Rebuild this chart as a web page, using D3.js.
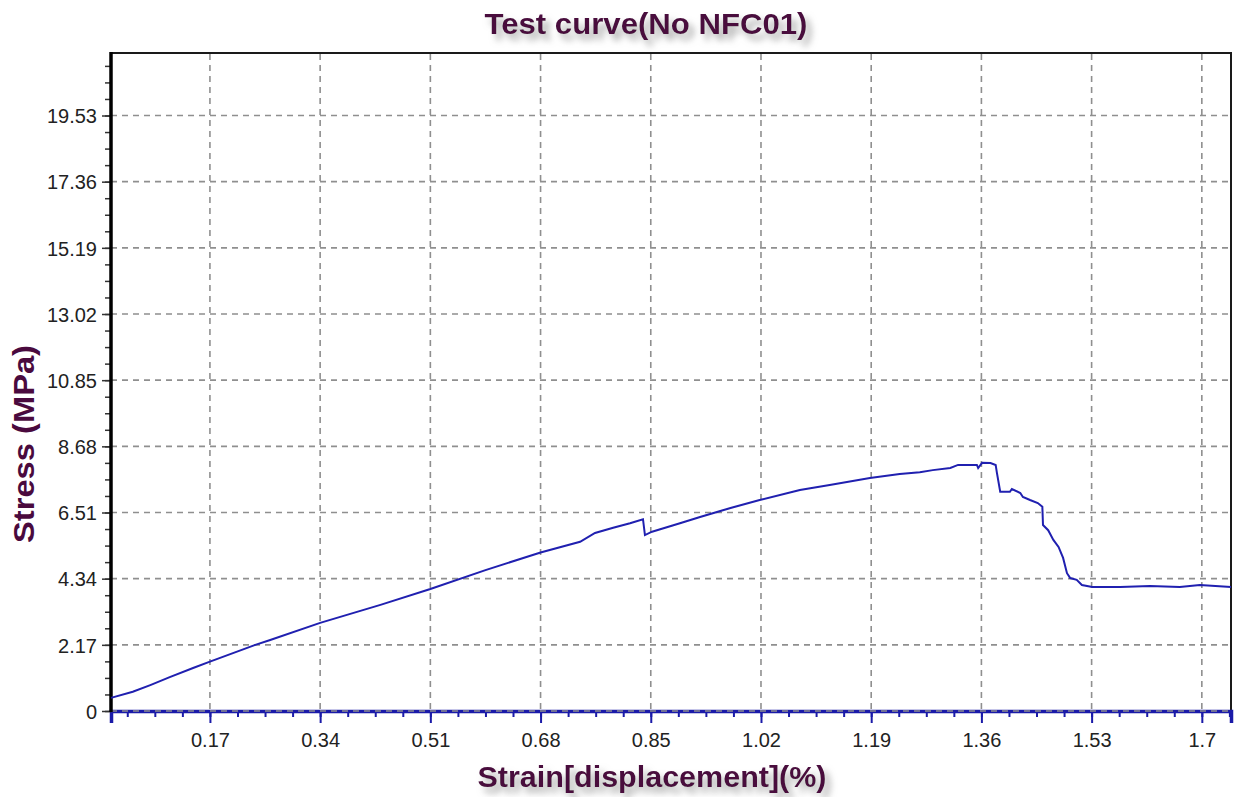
<!DOCTYPE html>
<html>
<head>
<meta charset="utf-8">
<script src="https://cdn.jsdelivr.net/npm/d3@7"></script>
<style>
  html, body { margin: 0; padding: 0; background: #ffffff; }
  svg { display: block; }
  text { font-family: "Liberation Sans", Arial, sans-serif; }
</style>
</head>
<body>
<svg id="chart" width="1236" height="797"></svg>
<script>
// ---- data ----
const strain = [0.0174, 0.051, 0.078, 0.108, 0.144, 0.170, 0.240, 0.263, 0.340, 0.433, 0.510, 0.595, 0.680, 0.741, 0.764, 0.792, 0.818, 0.838, 0.841, 0.852, 0.895, 0.926, 0.973, 1.018, 1.080, 1.126, 1.188, 1.234, 1.265, 1.285, 1.312, 1.324, 1.353, 1.355, 1.361, 1.374, 1.382, 1.384, 1.389, 1.404, 1.407, 1.420, 1.424, 1.435, 1.447, 1.454, 1.455, 1.463, 1.471, 1.479, 1.486, 1.492, 1.497, 1.507, 1.515, 1.531, 1.574, 1.620, 1.666, 1.697, 1.745];
const stress = [0.43, 0.63, 0.85, 1.11, 1.41, 1.62, 2.17, 2.33, 2.89, 3.48, 4.00, 4.62, 5.20, 5.55, 5.84, 6.01, 6.16, 6.29, 5.77, 5.88, 6.16, 6.36, 6.66, 6.92, 7.25, 7.41, 7.64, 7.77, 7.83, 7.90, 7.97, 8.07, 8.07, 7.97, 8.14, 8.13, 8.07, 7.80, 7.19, 7.19, 7.28, 7.15, 7.02, 6.92, 6.82, 6.70, 6.10, 5.93, 5.61, 5.38, 5.02, 4.52, 4.36, 4.30, 4.13, 4.07, 4.07, 4.10, 4.07, 4.13, 4.07];

const xTickValues = [0.17, 0.34, 0.51, 0.68, 0.85, 1.02, 1.19, 1.36, 1.53, 1.7];
const xTickLabels = ["0.17", "0.34", "0.51", "0.68", "0.85", "1.02", "1.19", "1.36", "1.53", "1.7"];
const yTickValues = [0, 2.17, 4.34, 6.51, 8.68, 10.85, 13.02, 15.19, 17.36, 19.53];
const yTickLabels = ["0", "2.17", "4.34", "6.51", "8.68", "10.85", "13.02", "15.19", "17.36", "19.53"];
const xDomain = [0.0174, 1.745];
const yDomain = [0, 21.58];

const titleText = "Test curve(No NFC01)";
const xTitleText = "Strain[displacement](%)";
const yTitleText = "Stress (MPa)";

// ---- layout ----
const L = 111, R = 1231, T = 53, B = 711;
const svg = d3.select("#chart");

const defs = svg.append("defs");
const f = defs.append("filter").attr("id", "shadow")
  .attr("x", "-10%").attr("y", "-40%").attr("width", "130%").attr("height", "200%");
f.append("feDropShadow").attr("dx", 5).attr("dy", 6).attr("stdDeviation", 3.5)
  .attr("flood-color", "#8a8a8a").attr("flood-opacity", 0.75);

const x = d3.scaleLinear().domain(xDomain).range([L, R]);
const y = d3.scaleLinear().domain(yDomain).range([B, T]);

// minor tick values
const xMinor = d3.range(0, 45).map(i => +(i * 0.0425).toFixed(4)).filter(v => v >= xDomain[0] && v <= xDomain[1]);
const yMinor = d3.range(0, 45).map(i => +(i * 0.5425).toFixed(4)).filter(v => v >= yDomain[0] && v <= yDomain[1]);

// frame
svg.append("rect").attr("x", L).attr("y", T).attr("width", R - L).attr("height", B - T)
  .attr("fill", "#fff").attr("stroke", "#1a1a1a").attr("stroke-width", 2);

// gridlines
const grid = svg.append("g");
grid.selectAll("line.v").data(xTickValues).join("line")
  .attr("x1", d => x(d)).attr("x2", d => x(d)).attr("y1", T + 1).attr("y2", B)
  .attr("stroke", "#8f8f8f").attr("stroke-width", 1.6).attr("stroke-dasharray", "6,5");
grid.selectAll("line.h").data(yTickValues.filter(d => d > 0)).join("line")
  .attr("x1", L).attr("x2", R - 1).attr("y1", d => y(d)).attr("y2", d => y(d))
  .attr("stroke", "#8f8f8f").attr("stroke-width", 1.6).attr("stroke-dasharray", "6,5");

// x axis (blue)
const xAxisG = svg.append("g").attr("transform", `translate(0,${B})`);
xAxisG.call(d3.axisBottom(x).tickValues(xMinor).tickSize(6).tickFormat(""))
  .call(g => g.select(".domain").remove())
  .call(g => g.selectAll("line").attr("stroke", "#1a1aa8").attr("stroke-width", 2));
const xAxisMajor = svg.append("g").attr("transform", `translate(0,${B})`);
xAxisMajor.call(d3.axisBottom(x).tickValues(xTickValues).tickSize(12).tickPadding(10)
    .tickFormat((d, i) => xTickLabels[i]))
  .call(g => g.select(".domain").attr("stroke", "#1a1aa8").attr("stroke-width", 3.5))
  .call(g => g.selectAll("line").attr("stroke", "#1a1aa8").attr("stroke-width", 2))
  .call(g => g.selectAll("text").attr("font-size", 20).attr("fill", "#222")
    .attr("font-family", "'Liberation Sans', Arial, sans-serif").attr("dy", "0.72em"));
// dashed grey gridline over the zero axis
svg.append("line").attr("x1", L).attr("x2", R).attr("y1", y(0)).attr("y2", y(0))
  .attr("stroke", "#8f8f8f").attr("stroke-width", 1.4).attr("stroke-dasharray", "6,5");

// y axis (black)
const yAxisMinor = svg.append("g").attr("transform", `translate(${L},0)`);
yAxisMinor.call(d3.axisLeft(y).tickValues(yMinor).tickSize(6).tickFormat(""))
  .call(g => g.select(".domain").remove())
  .call(g => g.selectAll("line").attr("stroke", "#333").attr("stroke-width", 1.5));
const yAxisMajor = svg.append("g").attr("transform", `translate(${L},0)`);
yAxisMajor.call(d3.axisLeft(y).tickValues(yTickValues).tickSize(9).tickPadding(5)
    .tickFormat((d, i) => yTickLabels[i]))
  .call(g => g.select(".domain").remove())
  .call(g => g.selectAll("line").attr("stroke", "#333").attr("stroke-width", 1.5))
  .call(g => g.selectAll("text").attr("font-size", 20).attr("fill", "#222")
    .attr("font-family", "'Liberation Sans', Arial, sans-serif").attr("dy", "0.36em"));
svg.append("line").attr("x1", L).attr("x2", L).attr("y1", T - 1).attr("y2", B + 1)
  .attr("stroke", "#000").attr("stroke-width", 3.5);

// curve
const data = strain.map((s, i) => ({ s, v: stress[i] }));
svg.append("path").datum(data)
  .attr("fill", "none").attr("stroke", "#2020b0").attr("stroke-width", 2)
  .attr("stroke-linejoin", "miter")
  .attr("d", d3.line().x(d => x(d.s)).y(d => y(d.v)));

// titles
svg.append("text").attr("x", 646).attr("y", 34).attr("text-anchor", "middle")
  .attr("font-size", 30).attr("font-weight", "bold").attr("fill", "#4a0a3e")
  .attr("textLength", 323).attr("lengthAdjust", "spacingAndGlyphs")
  .attr("filter", "url(#shadow)").text(titleText);
svg.append("text").attr("x", 652).attr("y", 787).attr("text-anchor", "middle")
  .attr("font-size", 29).attr("font-weight", "bold").attr("fill", "#4a0a3e")
  .attr("textLength", 349).attr("lengthAdjust", "spacingAndGlyphs")
  .attr("filter", "url(#shadow)").text(xTitleText);
svg.append("text").attr("transform", "translate(34,444) rotate(-90)").attr("text-anchor", "middle")
  .attr("font-size", 29).attr("font-weight", "bold").attr("fill", "#4a0a3e")
  .attr("textLength", 198).attr("lengthAdjust", "spacingAndGlyphs")
  .text(yTitleText);
</script>
</body>
</html>
